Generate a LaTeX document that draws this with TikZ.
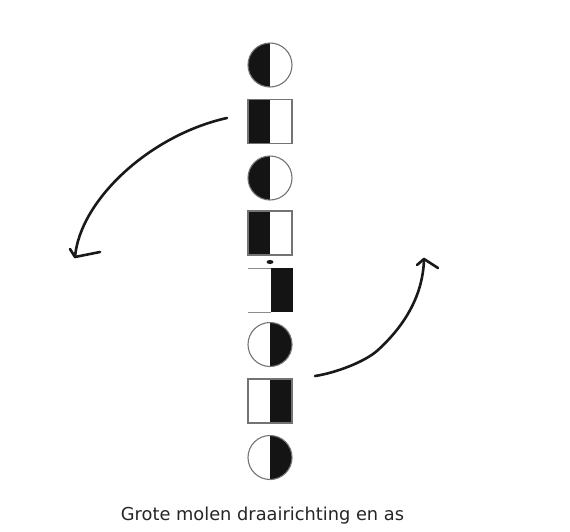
\documentclass[tikz,border=0pt]{standalone}
\usepackage{fontspec}
\setmainfont{DejaVu Sans}
\begin{document}
\begin{tikzpicture}[x=1pt,y=-1pt,
  outl/.style={draw=black!55,line width=1.1pt},
  lefthalf/.style={path picture={\fill[black!92] (path picture bounding box.north) rectangle (path picture bounding box.south west);}},
  righthalf/.style={path picture={\fill[black!92] (path picture bounding box.north) rectangle (path picture bounding box.south east);}},
  disc/.style={circle,outl,minimum size=44pt,inner sep=0pt},
  sq/.style={rectangle,outl,minimum size=44pt,inner sep=0pt},
  stroke/.style={line width=2.6pt,line cap=round,line join=round,black!90}]
\useasboundingbox (0,0) rectangle (570,531);
\fill[white] (0,0) rectangle (570,531);
% column of symbols
\node[disc,lefthalf] (c1) at (270,65) {};
\node[sq,lefthalf] (s1) at (270,121.5) {};
\node[disc,lefthalf] (c2) at (270,178) {};
\node[sq,lefthalf] (s2) at (270,233) {};
% partial square
\coordinate (p5) at (270,290);
\fill[black!92] (271,268) rectangle (293,312);
\draw[draw=black!45,line width=1pt] (248,268) -- (271,268);
\draw[draw=black!45,line width=1pt] (248,312) -- (271,312);
\fill[black!90] (270,262) ellipse (3.5pt and 2pt);
\node[disc,righthalf] (c3) at (270,344.5) {};
\node[sq,righthalf] (s3) at (270,401) {};
\node[disc,righthalf] (c4) at (270,457.5) {};
% arrows
\coordinate (la) at (227,118);
\coordinate (lb) at (75,257);
\draw[stroke] (la) .. controls (150,135) and (80,200) .. (lb);
\draw[stroke] (70,249) -- (lb) -- (100,252);
\coordinate (ra) at (315,376);
\coordinate (rm) at (378,350);
\coordinate (rb) at (424,259);
\draw[stroke] (ra) .. controls (335,373) and (365,362) .. (rm)
  .. controls (402,328) and (423,298) .. (rb);
\draw[stroke] (417,265) -- (rb) -- (438,268);
% caption
\node[font=\fontsize{17.8}{20}\selectfont,text=black!85,anchor=base,inner sep=0pt] (cap) at (262.5,520) {Grote molen draairichting en as};
\end{tikzpicture}
\end{document}
